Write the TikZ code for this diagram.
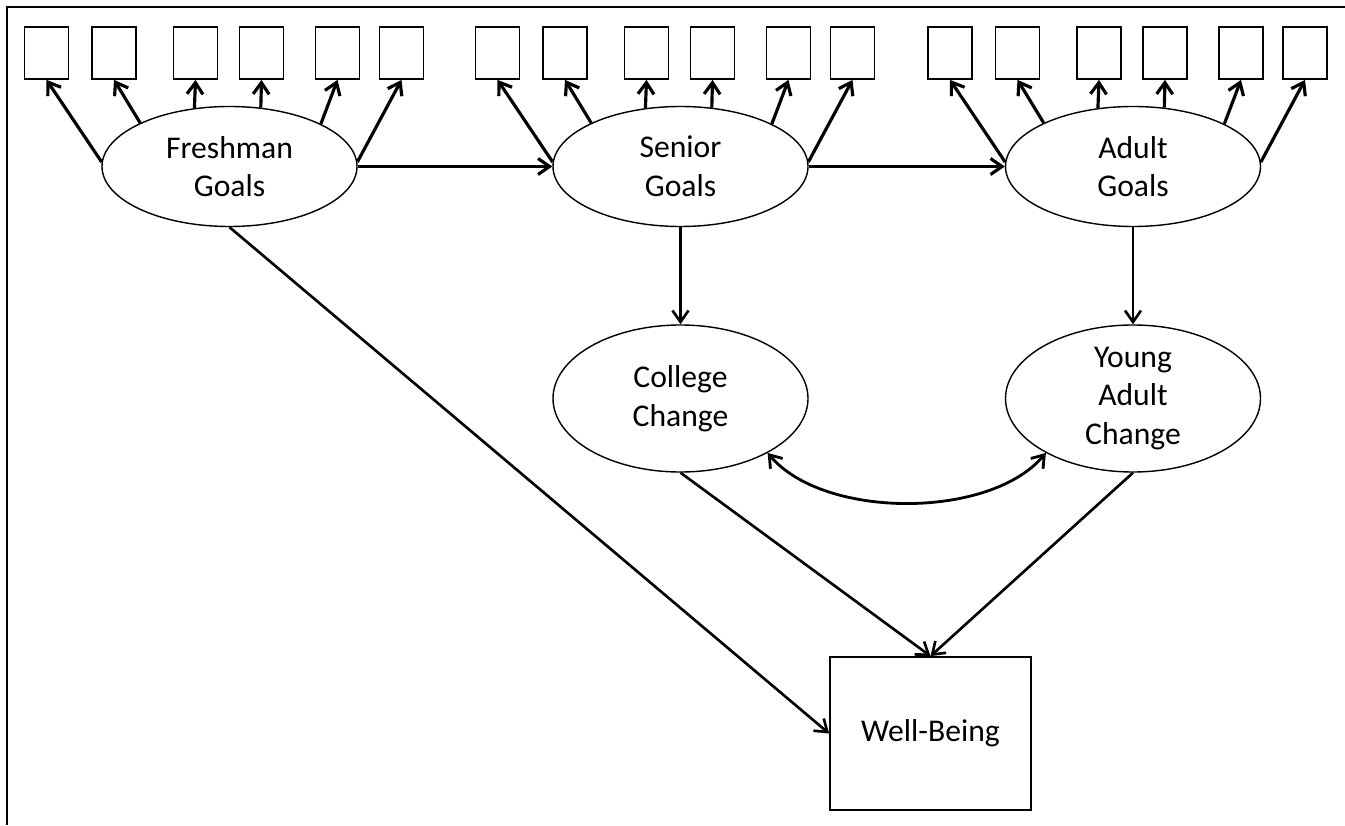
\documentclass[tikz,border=0pt]{standalone}
\usepackage{fontspec}
\setmainfont{Carlito}
\usetikzlibrary{positioning}
\usetikzlibrary{shapes}
\usetikzlibrary{arrows.meta}
\tikzstyle{line} = [draw, line width=1.5pt, ->]
\tikzstyle{heavy} = [line, line width=1.8pt]
\tikzstyle{latent} = [draw, ellipse, line width=0.8pt, minimum width=5.1cm, minimum height=2.4cm, inner sep=0pt, align=center]
\tikzstyle{item} = [draw, line width=1pt, minimum width=0.88cm, minimum height=1.04cm, inner sep=0pt]

\begin{document}
\begin{tikzpicture}[>={Straight Barb[length=2.3mm,width=3.2mm]}, font=\fontsize{18}{22}\selectfont]

	\useasboundingbox (0,0) rectangle (26.9,16.5);
	
	% frame
	\draw[line width=1.5pt] (0.14,0) -- (0.14,16.36) -- (26.9,16.36);
	
	\def\gy{13.17}
	\def\iy{15.44}
	\def\cy{8.53}
	
	\node[latent] (fr) at (4.59,\gy) {Freshman\\Goals};
	\node[latent] (sr) at (13.61,\gy) {Senior\\Goals};
	\node[latent] (ad) at (22.66,\gy) {Adult\\Goals};
	
	\node[latent, minimum height=2.94cm] (cc) at (13.61,\cy) {College\\Change};
	\node[latent, minimum height=2.94cm] (ya) at (22.66,\cy) {Young\\Adult\\Change};
	
	\node[item, minimum width=4.02cm, minimum height=3.06cm] (wb) at (18.61,1.83) {Well-Being};
	
	% indicators
	\foreach \g/\cx in {fr/4.59, sr/13.61, ad/22.66} {
		\foreach \dx/\a [count=\i] in {-3.66/178, -2.31/154, -0.68/121, 0.64/62, 2.16/25, 3.44/2} {
			\pgfmathsetmacro{\bx}{\cx + \dx}
			\node[item] (\g\i) at (\bx, \iy) {};
			\path[heavy] (\g.\a) -- (\g\i.south);
		}
	}
	
	\path[heavy] (fr.east) -- (sr.west);
	\path[heavy] (sr.east) -- (ad.west);
	
	\path[line] (sr.south) -- (cc.north);
	\path[line] (ad.south) -- (ya.north);
	
	\path[line] (fr.south) -- (wb.west);
	\path[line] (cc.south) -- (wb.north);
	\path[line] (ya.south) -- (wb.north);
	
	\path[line, <->, line width=1.6pt] (cc.-32) to[out=-50, in=-130, looseness=0.8] (ya.212);
	
\end{tikzpicture}
\end{document}
